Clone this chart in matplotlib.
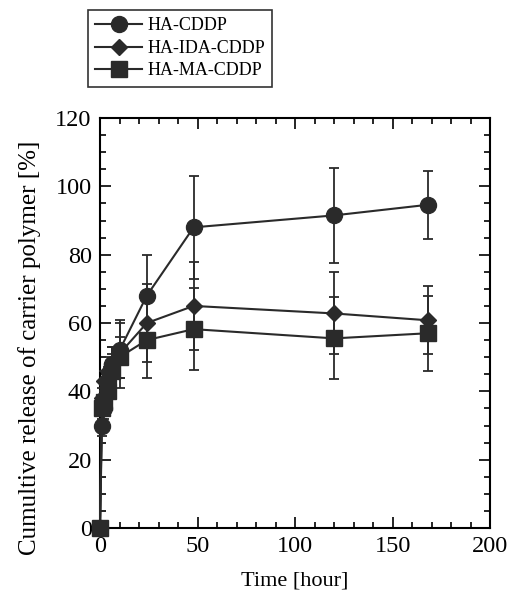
import matplotlib
matplotlib.use("Agg")
import matplotlib.pyplot as plt
from matplotlib.ticker import MultipleLocator

# === Data ===
time_h = [0, 1, 2, 4, 6, 10, 24, 48, 120, 168]

ha_cddp = [0, 30, 35, 43, 48, 52, 68, 88, 91.5, 94.6]
ha_cddp_err = [0, 3, 3, 4, 5, 8, 12, 15, 14, 10]

ha_ida = [0, 38, 43, 46, 48, 51, 60, 65, 62.8, 60.8]
ha_ida_err = [0, 3, 3, 4, 5, 10, 11.4, 12.8, 12, 10]

ha_ma = [0, 35, 37, 40, 46, 50, 55, 58.2, 55.5, 57]
ha_ma_err = [0, 3, 3, 4, 5, 6, 11, 12, 12, 11]

plt.rcParams['font.family'] = ['Liberation Serif', 'DejaVu Serif']
col = '#2a2a2a'

fig = plt.figure(figsize=(5.12, 6), dpi=100)
ax = fig.add_axes([0.1953, 0.12, 0.762, 0.6833])

series = [
    (ha_cddp, ha_cddp_err, 'o', 11.5, 'HA-CDDP'),
    (ha_ida, ha_ida_err, 'D', 8, 'HA-IDA-CDDP'),
    (ha_ma, ha_ma_err, 's', 12, 'HA-MA-CDDP'),
]
handles = []
for vals, errs, mk, ms, lab in series:
    h = ax.errorbar(time_h, vals, yerr=errs, fmt=mk + '-', color=col, ms=ms,
                    lw=1.5, elinewidth=1.3, capsize=3.5, capthick=1.3,
                    label=lab, clip_on=False, zorder=3)
    handles.append(h)

ax.set_xlim(0, 200)
ax.set_ylim(0, 120)
ax.xaxis.set_major_locator(MultipleLocator(50))
ax.xaxis.set_minor_locator(MultipleLocator(10))
ax.yaxis.set_major_locator(MultipleLocator(20))
ax.yaxis.set_minor_locator(MultipleLocator(5))
ax.tick_params(which='both', direction='in', top=True, right=True,
               labelsize=17.5, width=1.2, pad=6)
ax.tick_params(which='major', length=8)
ax.tick_params(which='minor', length=4)
for s in ax.spines.values():
    s.set_linewidth(1.5)

ax.set_xlabel("Time [hour]", fontsize=16, labelpad=10)
ax.set_ylabel("Cumultive release of carrier polymer [%]", fontsize=18)
ax.yaxis.set_label_coords(-0.15, 0.44)

leg = fig.legend(handles=[h[0] for h in handles],
                 labels=[s[4] for s in series],
                 loc='upper left', bbox_to_anchor=(0.154, 0.998),
                 fontsize=13, frameon=True, fancybox=False,
                 edgecolor='black', handlelength=2.6, handletextpad=0.3,
                 labelspacing=0.3, borderpad=0.4)
leg.get_frame().set_linewidth(1.2)

fig.savefig("out.png", dpi=100)
